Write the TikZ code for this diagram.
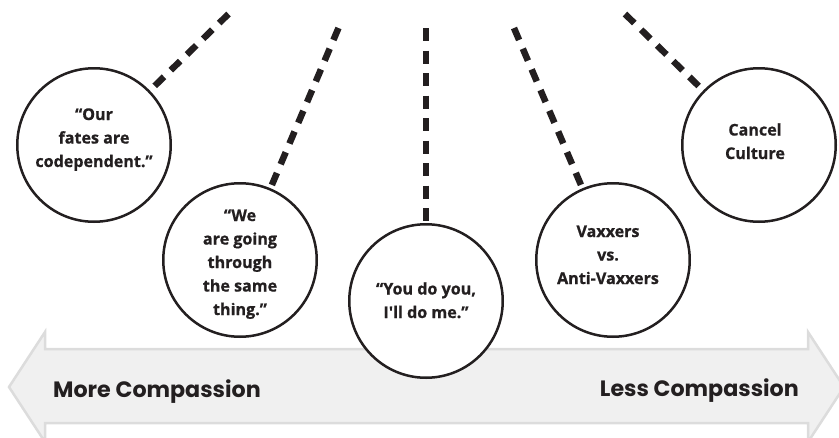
\documentclass[tikz,border=0pt]{standalone}
\usepackage{fontspec}
\newfontfamily\circfont{Open Sans}[Ligatures=TeXOff, BoldFeatures={FakeBold=0.8}]
\newfontfamily\labfont{Poppins}
\definecolor{ink}{HTML}{231F20}
\definecolor{arrowfill}{HTML}{F0F0F0}
\definecolor{arrowedge}{HTML}{DCDCDC}
\tikzset{
  circ/.style={circle, draw=ink, fill=white, line width=2.5pt, minimum size=153.5pt, inner sep=0pt},
  dashline/.style={draw=ink, line width=6.5pt, dash pattern=on 13pt off 9.5pt},
  ctext/.style={text=ink, align=center, inner sep=0pt, font=\circfont\bfseries\fontsize{16.1}{23.5}\selectfont},
  lab/.style={text=ink, inner sep=0pt, font=\labfont\bfseries\fontsize{22.2}{23}\selectfont}
}
\begin{document}
\begin{tikzpicture}[x=1pt,y=-1pt]
\useasboundingbox (0,0) rectangle (839,437);
\clip (0,0) rectangle (839,437);
% scale arrow
\path[fill=arrowfill, draw=arrowedge, line width=2.5pt, line join=miter]
  (9,387) -- (45,332) -- (45,349) -- (808,349) -- (808,332) -- (844,387)
  -- (808,442) -- (808,423) -- (45,423) -- (45,442) -- cycle;
% circles
\node[circ] (c1) at (94,145) {};
\node[circ] (c2) at (240,260) {};
\node[circ] (c3) at (426,301) {};
\node[circ] (c4) at (613,260) {};
\node[circ] (c5) at (759,145) {};
% string ends
\coordinate (t1) at (228.5,14);
\coordinate (t2) at (338.5,28);
\coordinate (t3) at (426,28);
\coordinate (t4) at (514,28);
\coordinate (t5) at (625,14);
\draw[dashline] (t1) -- (c1);
\draw[dashline] (t2) -- (c2);
\draw[dashline] (t3) -- (c3);
\draw[dashline] (t4) -- (c4);
\draw[dashline] (t5) -- (c5);
% texts
\node[ctext, anchor=base] (q1) at (94,167) {“Our\\fates are\\codependent.”};
\node[ctext, anchor=base] (q2) at (240,315) {“We\\are going\\through\\the same\\thing.”};
\node[ctext, anchor=base] (q3) at (426,318) {“You do you,\\I'll do me.”};
\node[ctext, anchor=base] (q4) at (608,284) {Vaxxers\\vs.\\Anti-Vaxxers};
\node[ctext, anchor=base] (q5) at (755,159) {Cancel\\Culture};
\node[lab, anchor=base west] (more) at (53,397) {More Compassion};
\node[lab, anchor=base east] (less) at (799,396) {Less Compassion};
\end{tikzpicture}
\end{document}
